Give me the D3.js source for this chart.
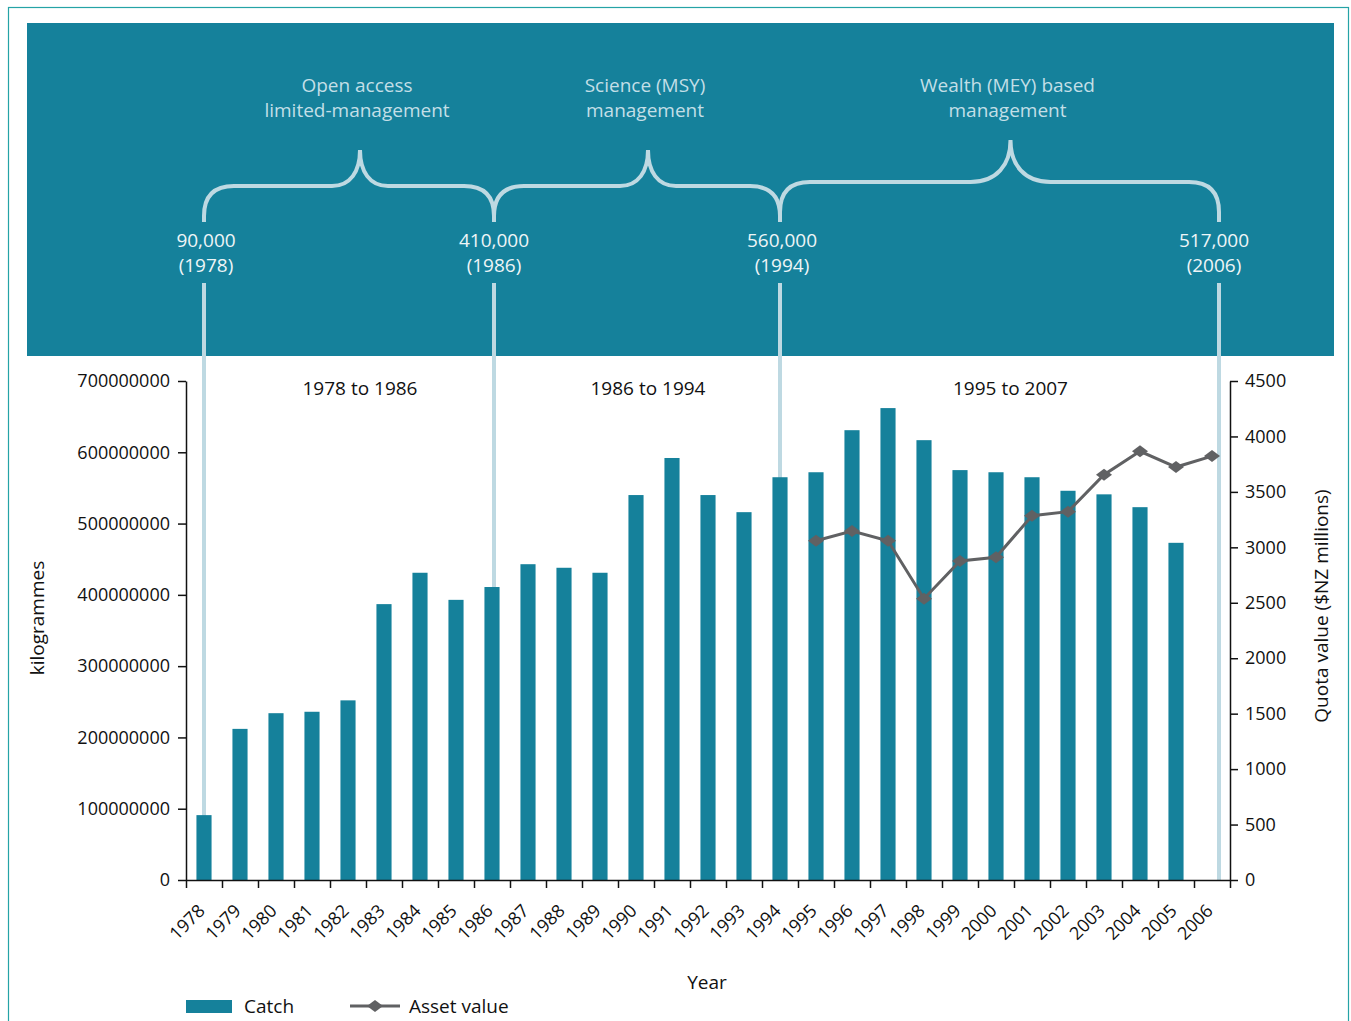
<!DOCTYPE html>
<html>
<head>
<meta charset="utf-8">
<script src="https://cdn.jsdelivr.net/npm/d3@7/dist/d3.min.js"></script>
<style>
  body { margin: 0; background: #fff; }
  svg text { font-family: "Open Sans", sans-serif; }
  .axis path, .axis line { stroke: #111; stroke-width: 1.5; }
  .axis text { fill: #111; font-size: 18px; }
</style>
</head>
<body>
<div id="chart"></div>
<script>
// catch in kg per year, asset (quota) value in $NZ millions
var years = [1978, 1979, 1980, 1981, 1982, 1983, 1984, 1985, 1986, 1987,
             1988, 1989, 1990, 1991, 1992, 1993, 1994, 1995, 1996, 1997,
             1998, 1999, 2000, 2001, 2002, 2003, 2004, 2005, 2006];
var catchKg = [91e6, 212e6, 234e6, 236e6, 252e6, 387e6, 431e6, 393e6, 411e6, 443e6,
               438e6, 431e6, 540e6, 592e6, 540e6, 516e6, 565e6, 572e6, 631e6, 662e6,
               617e6, 575e6, 572e6, 565e6, 546e6, 541e6, 523e6, 473e6, null];
var assetYears = [1995, 1996, 1997, 1998, 1999, 2000, 2001, 2002, 2003, 2004, 2005, 2006];
var assetValue = [3060, 3147, 3060, 2537, 2877, 2910, 3285, 3322, 3655, 3866, 3724, 3823];

var kgTicks = [0, 100000000, 200000000, 300000000, 400000000, 500000000, 600000000, 700000000];
var quotaTicks = [0, 500, 1000, 1500, 2000, 2500, 3000, 3500, 4000, 4500];

// management eras
var markerYears = [1978, 1986, 1994, 2006];
var markerTonnes = ["90,000", "410,000", "560,000", "517,000"];
var periodTitles = [["Open access", "limited-management"],
                    ["Science (MSY)", "management"],
                    ["Wealth (MEY) based", "management"]];
var periodRanges = ["1978 to 1986", "1986 to 1994", "1995 to 2007"];

var W = 1351, H = 1021;
var pLeft = 186, pRight = 1230, pTop = 381, pBottom = 880;

var teal = "#15819b", pale = "#bed9e2";

var svg = d3.select("#chart").append("svg")
    .attr("width", W)
    .attr("height", H);

var x = d3.scaleBand()
    .domain(years)
    .range([pLeft, pRight])
    .paddingInner(0.58)
    .paddingOuter(0.29);
var xEdge = d3.scaleLinear()
    .domain([0, years.length])
    .range([pLeft, pRight]);
var yKg = d3.scaleLinear()
    .domain([0, 700000000])
    .range([pBottom, pTop]);
var yQ = d3.scaleLinear()
    .domain([0, 4500])
    .range([pBottom, pTop]);

function cx(yr) { return x(yr) + x.bandwidth() / 2; }

// outer frame + banner
svg.append("rect")
    .attr("x", 8.5).attr("y", 7.5)
    .attr("width", 1340).attr("height", 1040)
    .attr("fill", "none")
    .attr("stroke", "#25a3a6")
    .attr("stroke-width", 1.2);

svg.append("rect")
    .attr("x", 27).attr("y", 23)
    .attr("width", 1307).attr("height", 333)
    .attr("fill", teal);

// vertical era lines (behind the bars)
var mx = markerYears.map(function(d, i) {
  return cx(d) + (i === markerYears.length - 1 ? 7 : (i === 1 ? 2 : 0));
});

svg.selectAll(".eraLine")
    .data(mx)
    .enter().append("line")
    .attr("class", "eraLine")
    .attr("x1", function(d) { return d; })
    .attr("x2", function(d) { return d; })
    .attr("y1", 283)
    .attr("y2", pBottom)
    .attr("stroke", pale)
    .attr("stroke-width", 4);

// braces
function brace(x0, x1, xm, yEnd, yBar, yTop, r, r2) {
  return "M" + x0 + "," + yEnd +
    " L" + x0 + "," + (yBar + r) +
    " Q" + x0 + "," + yBar + " " + (x0 + r) + "," + yBar +
    " L" + (xm - r2) + "," + yBar +
    " C" + (xm - r2 * 0.35) + "," + yBar + " " + xm + "," + (yBar - (yBar - yTop) * 0.4) + " " + xm + "," + yTop +
    " C" + xm + "," + (yBar - (yBar - yTop) * 0.4) + " " + (xm + r2 * 0.35) + "," + yBar + " " + (xm + r2) + "," + yBar +
    " L" + (x1 - r) + "," + yBar +
    " Q" + x1 + "," + yBar + " " + x1 + "," + (yBar + r) +
    " L" + x1 + "," + yEnd;
}

var centres = periodRanges.map(function(d, i) {
  return (mx[i] + mx[i + 1]) / 2 + 11;
});

svg.selectAll(".brace")
    .data(periodRanges)
    .enter().append("path")
    .attr("class", "brace")
    .attr("d", function(d, i) {
      var last = i === periodRanges.length - 1;
      return brace(mx[i], mx[i + 1], centres[i], 222,
                   last ? 182 : 186, last ? 140 : 150, 30, last ? 40 : 28);
    })
    .attr("fill", "none")
    .attr("stroke", pale)
    .attr("stroke-width", 4);

periodTitles.forEach(function(lines, i) {
  svg.append("text")
      .attr("x", centres[i])
      .attr("y", 92)
      .attr("text-anchor", "middle")
      .attr("fill", "#c3dfe7")
      .style("font-size", "19px")
      .selectAll("tspan")
      .data(lines)
      .enter().append("tspan")
      .attr("x", centres[i] - 3)
      .attr("dy", function(d, j) { return j ? 25 : 0; })
      .text(function(d) { return d; });

  svg.append("text")
      .attr("x", centres[i])
      .attr("y", 395)
      .attr("text-anchor", "middle")
      .attr("fill", "#111")
      .style("font-size", "19px")
      .text(periodRanges[i]);
});

markerYears.forEach(function(yr, i) {
  var t = svg.append("text")
      .attr("text-anchor", "middle")
      .attr("fill", "#eef5f7")
      .style("font-size", "19px");
  t.append("tspan").attr("x", cx(yr) + 2).attr("y", 247).text(markerTonnes[i]);
  t.append("tspan").attr("x", cx(yr) + 2).attr("y", 272).text("(" + yr + ")");
});

// bars
svg.selectAll(".bar")
    .data(years.filter(function(d, i) { return catchKg[i] != null; }))
    .enter().append("rect")
    .attr("class", "bar")
    .attr("x", function(d) { return x(d); })
    .attr("width", x.bandwidth())
    .attr("y", function(d) { return yKg(catchKg[years.indexOf(d)]); })
    .attr("height", function(d) { return pBottom - yKg(catchKg[years.indexOf(d)]); })
    .attr("fill", teal);

// asset value line
var assetData = assetYears.map(function(d, i) { return [d, assetValue[i]]; });
var line = d3.line()
    .x(function(d) { return cx(d[0]); })
    .y(function(d) { return yQ(d[1]); });

svg.append("path")
    .datum(assetData)
    .attr("d", line)
    .attr("fill", "none")
    .attr("stroke", "#606163")
    .attr("stroke-width", 3);

var diamond = "M-8,0L0,-6L8,0L0,6Z";
svg.selectAll(".pt")
    .data(assetData)
    .enter().append("path")
    .attr("class", "pt")
    .attr("d", diamond)
    .attr("transform", function(d) { return "translate(" + cx(d[0]) + "," + yQ(d[1]) + ")"; })
    .attr("fill", "#606163");

// axes
svg.append("g")
    .attr("class", "axis")
    .attr("transform", "translate(" + pLeft + ",0)")
    .call(d3.axisLeft(yKg).tickValues(kgTicks).tickFormat(d3.format("d"))
      .tickSize(8).tickPadding(8).tickSizeOuter(0));

svg.append("g")
    .attr("class", "axis")
    .attr("transform", "translate(" + pRight + ",0)")
    .call(d3.axisRight(yQ).tickValues(quotaTicks).tickFormat(d3.format("d"))
      .tickSize(8).tickPadding(7).tickSizeOuter(0));

svg.append("g")
    .attr("class", "axis")
    .attr("transform", "translate(0," + pBottom + ")")
    .call(d3.axisBottom(xEdge).tickValues(d3.range(years.length + 1))
      .tickFormat("").tickSize(8).tickSizeOuter(0));

var xLab = svg.append("g")
    .attr("class", "axis")
    .attr("transform", "translate(0," + pBottom + ")")
    .call(d3.axisBottom(x).tickSize(0));
xLab.select(".domain").remove();
xLab.selectAll("text")
    .attr("y", 0).attr("dy", 0)
    .attr("text-anchor", "end")
    .attr("transform", "translate(2,32) rotate(-45)");

// titles
svg.append("text")
    .attr("transform", "translate(44,618) rotate(-90)")
    .attr("text-anchor", "middle")
    .attr("fill", "#111")
    .style("font-size", "19px")
    .text("kilogrammes");

svg.append("text")
    .attr("transform", "translate(1328,606) rotate(-90)")
    .attr("text-anchor", "middle")
    .attr("fill", "#111")
    .style("font-size", "19px")
    .text("Quota value ($NZ millions)");

svg.append("text")
    .attr("x", 707).attr("y", 989)
    .attr("text-anchor", "middle")
    .attr("fill", "#111")
    .style("font-size", "19px")
    .text("Year");

// legend
var lg = svg.append("g").attr("transform", "translate(186,1006)");
lg.append("rect")
    .attr("x", 0).attr("y", -6)
    .attr("width", 46).attr("height", 13)
    .attr("fill", teal);
lg.append("text")
    .attr("x", 58).attr("y", 7)
    .attr("fill", "#111")
    .style("font-size", "19px")
    .text("Catch");
lg.append("line")
    .attr("x1", 164).attr("x2", 214)
    .attr("stroke", "#606163")
    .attr("stroke-width", 3);
lg.append("path")
    .attr("d", diamond)
    .attr("transform", "translate(189,0)")
    .attr("fill", "#606163");
lg.append("text")
    .attr("x", 223).attr("y", 7)
    .attr("fill", "#111")
    .style("font-size", "19px")
    .text("Asset value");
</script>
</body>
</html>
